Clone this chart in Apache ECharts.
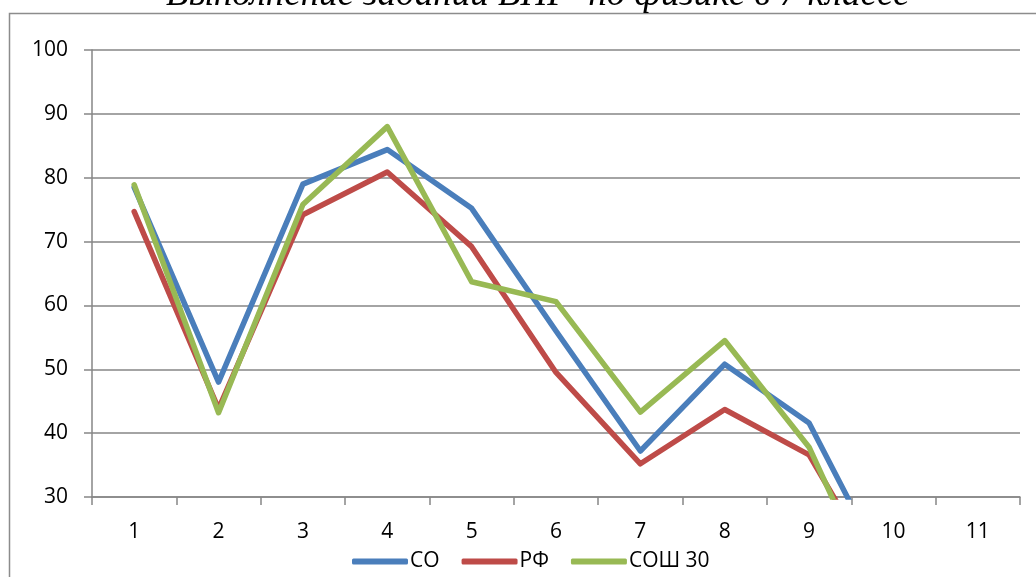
<!DOCTYPE html>
<html>
<head>
<meta charset="utf-8">
<script src="https://cdn.jsdelivr.net/npm/echarts@6/dist/echarts.min.js"></script>
<style>
  html, body { margin: 0; padding: 0; background: #fff; }
  #chart { width: 1036px; height: 577px; }
</style>
</head>
<body>
<div id="chart"></div>
<script>
// Task numbers of the test
const categories = ['1', '2', '3', '4', '5', '6', '7', '8', '9', '10', '11'];
// Percent of completion per task
const seriesNames = ['СО', 'РФ', 'СОШ 30'];
const valuesSO = [78.5, 48, 79, 84.4, 75.2, 56, 37.2, 50.8, 41.6, 16, null];
const valuesRF = [74.7, 43.8, 74.2, 80.9, 69.2, 49.5, 35.2, 43.7, 36.6, 14, null];
const valuesSchool = [78.9, 43.2, 75.8, 88, 63.7, 60.6, 43.3, 54.5, 37.8, 9, null];
const yTicks = { min: 30, max: 100, interval: 10 };

const colors = ['#4a7ebb', '#be4b48', '#98b954'];
const font = "'Open Sans', 'Liberation Sans', sans-serif";

const chart = echarts.init(document.getElementById('chart'), null, { renderer: 'canvas' });

function line(name, data, color) {
  return {
    name: name,
    type: 'line',
    data: data,
    symbol: 'none',
    clip: true,
    color: color,
    lineStyle: { width: 5.5, color: color, cap: 'round', join: 'round' },
    emphasis: { disabled: true }
  };
}

chart.setOption({
  animation: false,
  backgroundColor: '#fff',
  title: {
    text: 'Выполнение заданий ВПР  по физике в 7 классе',
    left: 161,
    top: -28,
    textStyle: {
      fontFamily: "'Liberation Serif', 'DejaVu Serif', serif",
      fontStyle: 'italic',
      fontWeight: 'normal',
      fontSize: 37,
      color: '#000'
    }
  },
  graphic: [
    {
      type: 'polyline',
      shape: { points: [[9.5, 577], [9.5, 13.5], [1036, 13.5]] },
      style: { stroke: '#8c8c8c', lineWidth: 1.5, fill: null },
      silent: true
    }
  ],
  legend: {
    data: seriesNames,
    left: 347,
    top: 546,
    icon: 'roundRect',
    itemWidth: 56,
    itemHeight: 6,
    itemGap: 22,
    itemStyle: { borderWidth: 0 },
    textStyle: { fontFamily: font, fontSize: 21, color: '#000', padding: [0, 0, 0, -3] }
  },
  grid: { left: 92, right: 16, top: 50, bottom: 80, containLabel: false },
  xAxis: {
    type: 'category',
    data: categories,
    boundaryGap: true,
    axisLine: { lineStyle: { color: '#868686', width: 1.5 } },
    axisTick: { show: true, length: 8, alignWithLabel: false, lineStyle: { color: '#868686', width: 1.5 } },
    axisLabel: { fontFamily: font, fontSize: 21, color: '#000', margin: 25 },
    splitLine: { show: false }
  },
  yAxis: {
    type: 'value',
    min: yTicks.min,
    max: yTicks.max,
    interval: yTicks.interval,
    axisLine: { show: true, lineStyle: { color: '#868686', width: 1.5 } },
    axisTick: { show: true, length: 8, lineStyle: { color: '#868686', width: 1.5 } },
    axisLabel: { fontFamily: font, fontSize: 21, color: '#000', margin: 24 },
    splitLine: { show: true, lineStyle: { color: '#868686', width: 1.5 } }
  },
  series: [
    line(seriesNames[0], valuesSO, colors[0]),
    line(seriesNames[1], valuesRF, colors[1]),
    line(seriesNames[2], valuesSchool, colors[2])
  ]
});
</script>
</body>
</html>
